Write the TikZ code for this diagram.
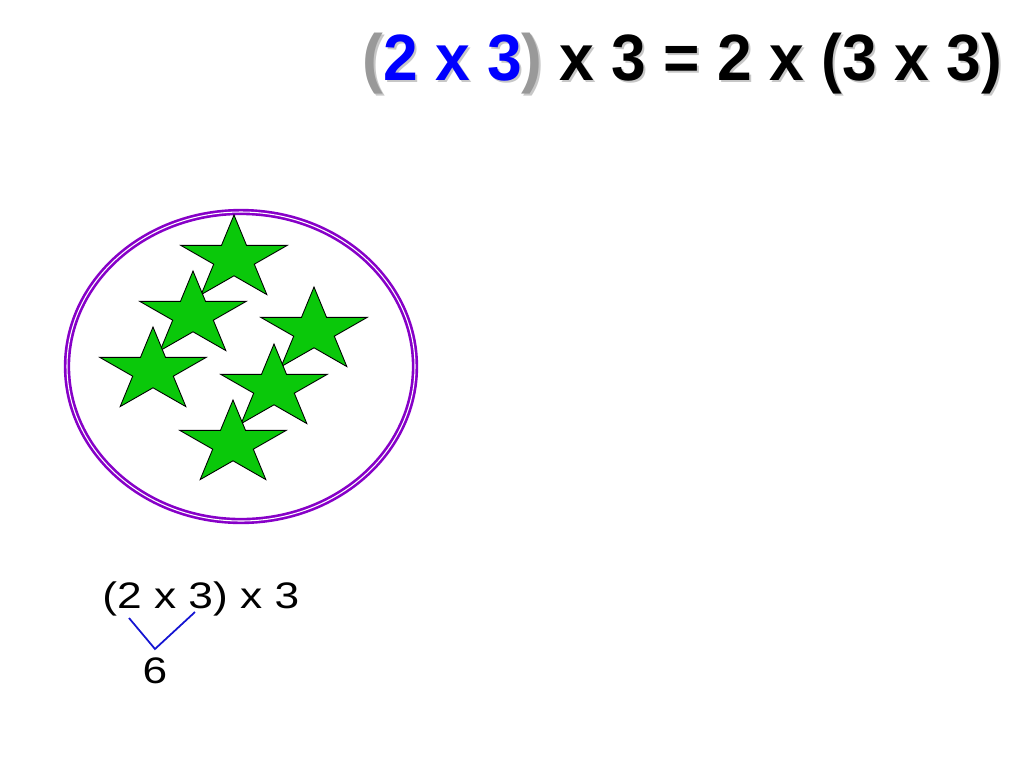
\documentclass[tikz,border=0pt]{standalone}
\usepackage{fontspec}
\setmainfont{Liberation Sans}
\usetikzlibrary{shapes.geometric}
\definecolor{ringpurple}{RGB}{135,0,200}
\definecolor{stargreen}{RGB}{10,200,10}
\definecolor{vblue}{RGB}{20,20,210}
\begin{document}
\begin{tikzpicture}[x=0.02cm,y=-0.02cm]
\tikzset{
  greenstar/.style={star,star points=5,star point ratio=2.618,minimum size=1.76cm,
    inner sep=0pt,fill=stargreen,draw=black,line width=0.5pt,xscale=1.27,transform shape},
  bigtext/.style={font=\fontsize{35.5pt}{40pt}\selectfont\bfseries,inner sep=0pt,anchor=base west,
    yscale=1.05,transform shape},
  smalltext/.style={font=\fontsize{21pt}{24pt}\selectfont,inner sep=0pt,xscale=1.2,transform shape}
}
\useasboundingbox (0,0) rectangle (1024,768);
\fill[white] (0,0) rectangle (1024,768);

% Title
\node[bigtext,text=black!22] (titleshadow) at (364,82)
  {(2 x 3) x 3 = 2 x (3 x 3)};
\node[bigtext] (title) at (362,80)
  {\textcolor{black!40}{(}\textcolor{blue}{2 x 3}\textcolor{black!40}{)} x 3 = 2 x (3 x 3)};

% Ring
\draw[ringpurple,double=white,double distance=0.6pt,line width=1.5pt] (241,366.5) ellipse (174 and 154.5);

% Stars
\node[greenstar] (s1) at (234,259) {};
\node[greenstar] (s3) at (314,331) {};
\node[greenstar] (s2) at (193,315) {};
\node[greenstar] (s4) at (153,371) {};
\node[greenstar] (s5) at (274,388) {};
\node[greenstar] (s6) at (233,444) {};

% Bottom sum
\node[smalltext,anchor=base west] (sum) at (102,608) {(2 x 3) x 3};
\node[smalltext,anchor=base] (six) at (155,683) {6};
\coordinate (vl) at (129,618);
\coordinate (vr) at (195,612);
\draw[vblue,line width=1pt] (vl) -- ([yshift=4.5pt]six.north) -- (vr);
\end{tikzpicture}
\end{document}
